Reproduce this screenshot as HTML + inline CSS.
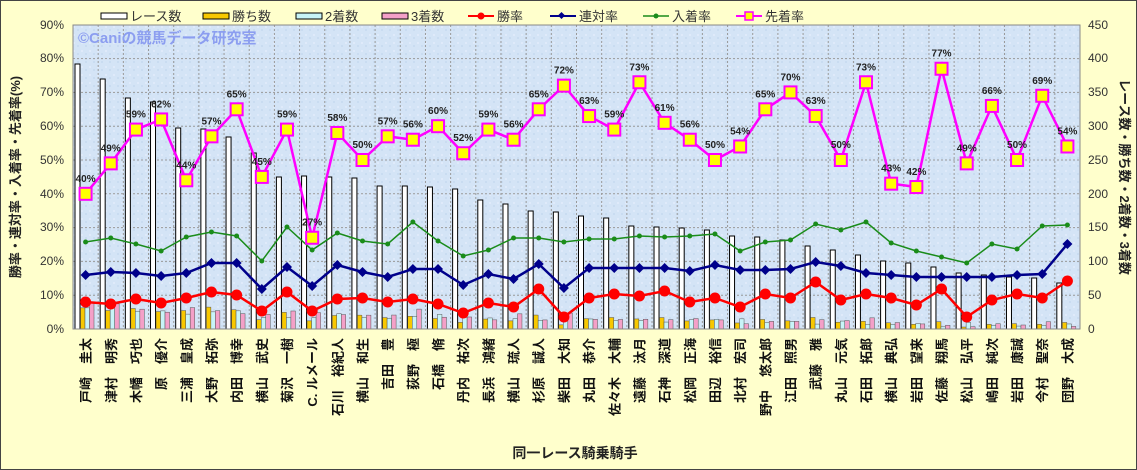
<!DOCTYPE html>
<html><head><meta charset="utf-8"><style>
html,body{margin:0;padding:0;background:#ffffcc}
svg{display:block;font-family:"Liberation Sans","Noto Sans CJK JP",sans-serif}
</style></head><body>
<svg id="c" width="1137" height="470" viewBox="0 0 1137 470" xmlns="http://www.w3.org/2000/svg">
<defs>
<pattern id="tex" width="8" height="8" patternUnits="userSpaceOnUse">
<rect width="8" height="8" fill="#d4e4f6"/><rect x="1" y="2" width="2" height="2" fill="#dfeafa"/><rect x="5" y="5" width="2" height="2" fill="#c9dcf1"/>
</pattern>
</defs>
<rect x="0.5" y="0.5" width="1136" height="469" fill="#ffffcc" stroke="#444"/>
<rect x="73" y="25" width="1007" height="304" fill="url(#tex)"/>
<g id="grid"></g>
<g id="bars"></g>
<text x="78" y="43" font-size="15" font-weight="bold" fill="#8c9ef0">©Caniの競馬データ研究室</text>
<g id="lines"></g>
<rect x="73" y="25" width="1007" height="304" fill="none" stroke="#888"/>
<g font-size="12" fill="#333" text-anchor="end">
<text x="64" y="333">0%</text><text x="64" y="299">10%</text><text x="64" y="265">20%</text><text x="64" y="231">30%</text><text x="64" y="198">40%</text><text x="64" y="164">50%</text><text x="64" y="130">60%</text><text x="64" y="96">70%</text><text x="64" y="62">80%</text><text x="64" y="29">90%</text>
</g>
<g font-size="12" fill="#333" text-anchor="start">
<text x="1088" y="333">0</text><text x="1088" y="299">50</text><text x="1088" y="265">100</text><text x="1088" y="231">150</text><text x="1088" y="198">200</text><text x="1088" y="164">250</text><text x="1088" y="130">300</text><text x="1088" y="96">350</text><text x="1088" y="62">400</text><text x="1088" y="29">450</text>
</g>
<text transform="translate(20,177) rotate(-90)" text-anchor="middle" font-size="13" font-weight="bold" fill="#222">勝率・連対率・入着率・先着率(%)</text>
<text transform="translate(1120,177) rotate(90)" text-anchor="middle" font-size="13" font-weight="bold" fill="#222">レース数・勝ち数・2着数・3着数</text>
<text x="575" y="458" text-anchor="middle" font-size="14" font-weight="bold" fill="#222">同一レース騎乗騎手</text>
<g font-size="13" fill="#333">
<rect x="101" y="13" width="26" height="6" fill="#fff" stroke="#000"/><text x="130" y="21">レース数</text>
<rect x="203" y="13" width="26" height="6" fill="#f8c800" stroke="#000"/><text x="232" y="21">勝ち数</text>
<rect x="296" y="13" width="26" height="6" fill="#c8f4f8" stroke="#000"/><text x="325" y="21">2着数</text>
<rect x="382" y="13" width="26" height="6" fill="#f4a0c8" stroke="#000"/><text x="411" y="21">3着数</text>
<line x1="468" y1="16" x2="494" y2="16" stroke="#f00" stroke-width="2"/><circle cx="481" cy="16" r="3.5" fill="#f00"/><text x="497" y="21">勝率</text>
<line x1="550" y1="16" x2="576" y2="16" stroke="#00008b" stroke-width="2"/><rect x="559" y="13" width="5" height="5" fill="#00008b" transform="rotate(45 561.5 15.5)"/><text x="579" y="21">連対率</text>
<line x1="643" y1="16" x2="669" y2="16" stroke="#1a8c1a" stroke-width="1.5"/><circle cx="656" cy="16" r="2.5" fill="#1a8c1a"/><text x="672" y="21">入着率</text>
<line x1="736" y1="16" x2="762" y2="16" stroke="#f0f" stroke-width="2"/><rect x="745" y="12" width="8" height="8" fill="#ff0" stroke="#f0f" stroke-width="1.5"/><text x="765" y="21">先着率</text>
</g>
<g id="pl" font-size="10" font-weight="bold" fill="#222" text-anchor="middle">
<text>40%</text><text>49%</text><text>59%</text><text>62%</text><text>44%</text><text>57%</text><text>65%</text><text>45%</text><text>59%</text><text>27%</text>
<text>58%</text><text>50%</text><text>57%</text><text>56%</text><text>60%</text><text>52%</text><text>59%</text><text>56%</text><text>65%</text><text>72%</text>
<text>63%</text><text>59%</text><text>73%</text><text>61%</text><text>56%</text><text>50%</text><text>54%</text><text>65%</text><text>70%</text><text>63%</text>
<text>50%</text><text>73%</text><text>43%</text><text>42%</text><text>77%</text><text>49%</text><text>66%</text><text>50%</text><text>69%</text><text>54%</text>
</g>
<g id="nm" font-size="13" font-weight="bold" fill="#111" text-anchor="end">
<text>戸崎　圭太</text><text>津村　明秀</text><text>木幡　巧也</text><text>原　優介</text><text>三浦　皇成</text><text>大野　拓弥</text><text>内田　博幸</text><text>横山　武史</text><text>菊沢　一樹</text><text>C. ルメール</text>
<text>石川　裕紀人</text><text>横山　和生</text><text>吉田　豊</text><text>荻野　極</text><text>石橋　脩</text><text>丹内　祐次</text><text>長浜　鴻緒</text><text>横山　琉人</text><text>杉原　誠人</text><text>柴田　大知</text>
<text>丸田　恭介</text><text>佐々木　大輔</text><text>遠藤　汰月</text><text>石神　深道</text><text>松岡　正海</text><text>田辺　裕信</text><text>北村　宏司</text><text>野中　悠太郎</text><text>江田　照男</text><text>武藤　雅</text>
<text>丸山　元気</text><text>石田　拓郎</text><text>横山　典弘</text><text>岩田　望来</text><text>佐藤　翔馬</text><text>松山　弘平</text><text>嶋田　純次</text><text>岩田　康誠</text><text>今村　聖奈</text><text>団野　大成</text>
</g>
</svg>
<script>
(function(){
var NS="http://www.w3.org/2000/svg";
function el(t,a,p){var e=document.createElementNS(NS,t);for(var k in a)e.setAttribute(k,a[k]);p.appendChild(e);return e;}
var X0=73,W=25.175,Y0=329,PX=3.38;
var grid=document.getElementById('grid');
for(var i=1;i<40;i++){var x=X0+W*i;el('line',{x1:x,y1:25,x2:x,y2:329,stroke:'#999','stroke-dasharray':'2,2','stroke-width':1},grid);}
for(var j=1;j<9;j++){var y=Y0-j*33.8;el('line',{x1:73,y1:y,x2:1080,y2:y,stroke:'#999','stroke-dasharray':'2,2','stroke-width':1},grid);}
var pct=[40,49,59,62,44,57,65,45,59,27,58,50,57,56,60,52,59,56,65,72,63,59,73,61,56,50,54,65,70,63,50,73,43,42,77,49,66,50,69,54];
var red=[302,304,299,303,298,292,295,311,292,311,299,298,302,299,304,313,303,307,289,317,298,294,296,291,302,298,307,294,298,282,300,294,298,305,289,317,300,294,298,281];
var navy=[275,272,273,276,273,263,263,289,267,286,265,272,277,269,269,285,274,279,264,288,268,268,268,268,271,265,270,270,269,262,266,273,275,277,277,277,277,275,274,244];
var green=[242,238,244,251,237,232,236,261,227,250,233,241,244,222,241,256,250,238,238,242,239,239,236,237,236,234,251,242,240,224,230,222,243,251,257,263,244,249,226,225];
var wt=[64,79,98,102,128,129,137,153,177,176,177,178,186,186,187,189,200,204,211,212,216,218,226,227,228,230,236,237,240,246,250,255,261,263,267,273,275,277,278,283];
var bars=document.getElementById('bars');
function cx(i){return X0+W*i+W/2;}
for(var i=0;i<40;i++){
 var s=X0+W*i+2, h=Y0-wt[i];
 var r=(Y0-red[i])/PX/100, n=(Y0-navy[i])/PX/100, g=(Y0-green[i])/PX/100;
 var gh=h*r, ch=h*(n-r), ph=h*(g-n);
 el('rect',{x:s,y:wt[i],width:5,height:h,fill:'#fff',stroke:'#000','stroke-width':1},bars);
 el('rect',{x:s+5.5,y:Y0-gh,width:4.5,height:gh,fill:'#f8c800',stroke:'#555','stroke-width':0.5},bars);
 el('rect',{x:s+10,y:Y0-ch,width:4.5,height:ch,fill:'#c8f4f8',stroke:'#555','stroke-width':0.5},bars);
 el('rect',{x:s+14.5,y:Y0-ph,width:4.5,height:ph,fill:'#f4a0c8',stroke:'#555','stroke-width':0.5},bars);
}
var L=document.getElementById('lines');
function poly(arr,col,w){var p=[];for(var i=0;i<40;i++)p.push(cx(i)+','+arr[i]);el('polyline',{points:p.join(' '),fill:'none',stroke:col,'stroke-width':w},L);}
poly(green,'#1a8c1a',1.5);
for(var i=0;i<40;i++)el('circle',{cx:cx(i),cy:green[i],r:2.5,fill:'#1a8c1a'},L);
poly(navy,'#00008b',2.5);
for(var i=0;i<40;i++){var x=cx(i),y=navy[i];el('polygon',{points:(x)+','+(y-5)+' '+(x+5)+','+y+' '+x+','+(y+5)+' '+(x-5)+','+y,fill:'#00008b'},L);}
poly(red,'#f00',2.5);
for(var i=0;i<40;i++)el('circle',{cx:cx(i),cy:red[i],r:5.5,fill:'#f00'},L);
var py=pct.map(function(v){return Y0-v*PX;});
poly(py,'#f0f',2.5);
for(var i=0;i<40;i++)el('rect',{x:cx(i)-6,y:py[i]-6,width:12,height:12,fill:'#ff0',stroke:'#f0f','stroke-width':2},L);
var pl=document.getElementById('pl').children;
for(var i=0;i<40;i++){pl[i].setAttribute('x',cx(i));pl[i].setAttribute('y',py[i]-12);}
var nm=document.getElementById('nm').children;
for(var i=0;i<40;i++){nm[i].setAttribute('transform','translate('+(cx(i)+5)+',338) rotate(-90)');}
})();
</script>
</body></html>
